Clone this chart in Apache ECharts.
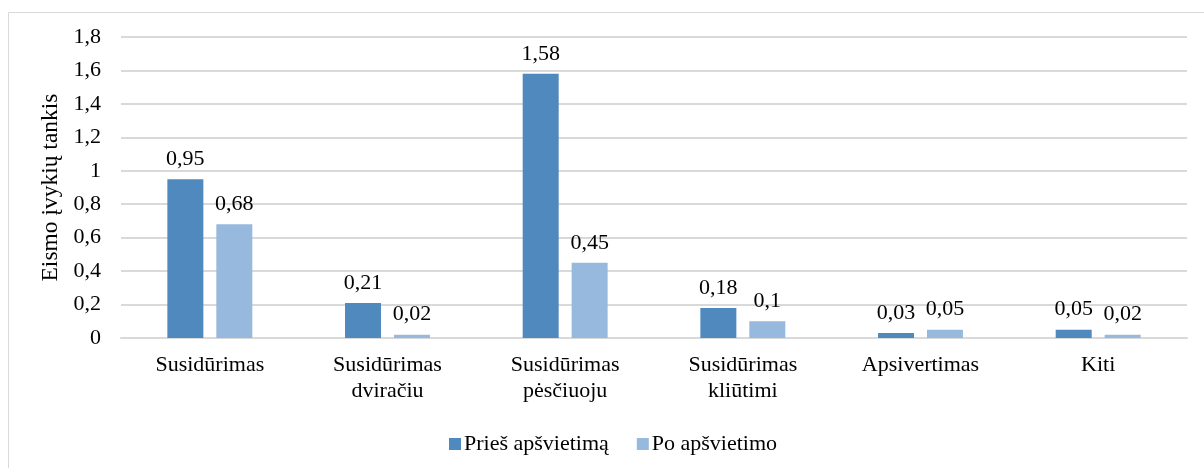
<!DOCTYPE html>
<html>
<head>
<meta charset="utf-8">
<script src="https://cdn.jsdelivr.net/npm/echarts@6/dist/echarts.min.js"></script>
<style>
html,body{margin:0;padding:0;background:#fff;}
#chart{width:1204px;height:468px;}
</style>
</head>
<body>
<div id="chart"></div>
<script>
const categories = ['Susidūrimas', 'Susidūrimas\ndviračiu', 'Susidūrimas\npėsčiuoju', 'Susidūrimas\nkliūtimi', 'Apsivertimas', 'Kiti'];
const seriesNames = ['Prieš apšvietimą', 'Po apšvietimo'];
const beforeValues = [0.95, 0.21, 1.58, 0.18, 0.03, 0.05];
const afterValues = [0.68, 0.02, 0.45, 0.1, 0.05, 0.02];
const yAxisName = 'Eismo įvykių tankis';

const FONT = '"Liberation Serif", "Times New Roman", serif';
const comma = v => String(Math.round(v * 100) / 100).replace('.', ',');

const chart = echarts.init(document.getElementById('chart'));
const labelStyle = {
  show: true, position: 'top', distance: 9,
  fontFamily: FONT, fontSize: 22, color: '#000',
  formatter: p => comma(p.value)
};
chart.setOption({
  animation: false,
  graphic: [{
    type: 'rect', left: 6, top: 10, shape: { width: 1400, height: 600 },
    style: { fill: 'none', stroke: '#d9d9d9', lineWidth: 1 }, silent: true, z: -1
  }],
  grid: { left: 121, right: 17, top: 37, bottom: 130 },
  legend: {
    data: seriesNames, left: 444, top: 428,
    itemWidth: 12, itemHeight: 12, itemGap: 28,
    icon: 'rect',
    textStyle: { fontFamily: FONT, fontSize: 22, color: '#000', padding: [0, 0, 0, -2] }
  },
  xAxis: {
    type: 'category', data: categories,
    axisLine: { lineStyle: { color: '#d9d9d9', width: 2 } },
    axisTick: { show: false },
    axisLabel: { interval: 0, margin: 14, fontFamily: FONT, fontSize: 22, color: '#000', lineHeight: 26 }
  },
  yAxis: {
    type: 'value', min: 0, max: 1.8, interval: 0.2,
    name: yAxisName, nameLocation: 'middle', nameGap: 55,
    nameTextStyle: { fontFamily: FONT, fontSize: 23.5, color: '#000' },
    axisLine: { show: false }, axisTick: { show: false },
    splitLine: { lineStyle: { color: '#d9d9d9', width: 2 } },
    axisLabel: { margin: 20, fontFamily: FONT, fontSize: 22, color: '#000', formatter: v => comma(v) }
  },
  series: [
    { name: seriesNames[0], type: 'bar', data: beforeValues, barWidth: 36, barGap: '36%',
      itemStyle: { color: '#4f89bd' }, label: labelStyle },
    { name: seriesNames[1], type: 'bar', data: afterValues, barWidth: 36,
      itemStyle: { color: '#98b9de' }, label: labelStyle }
  ]
});
</script>
</body>
</html>
